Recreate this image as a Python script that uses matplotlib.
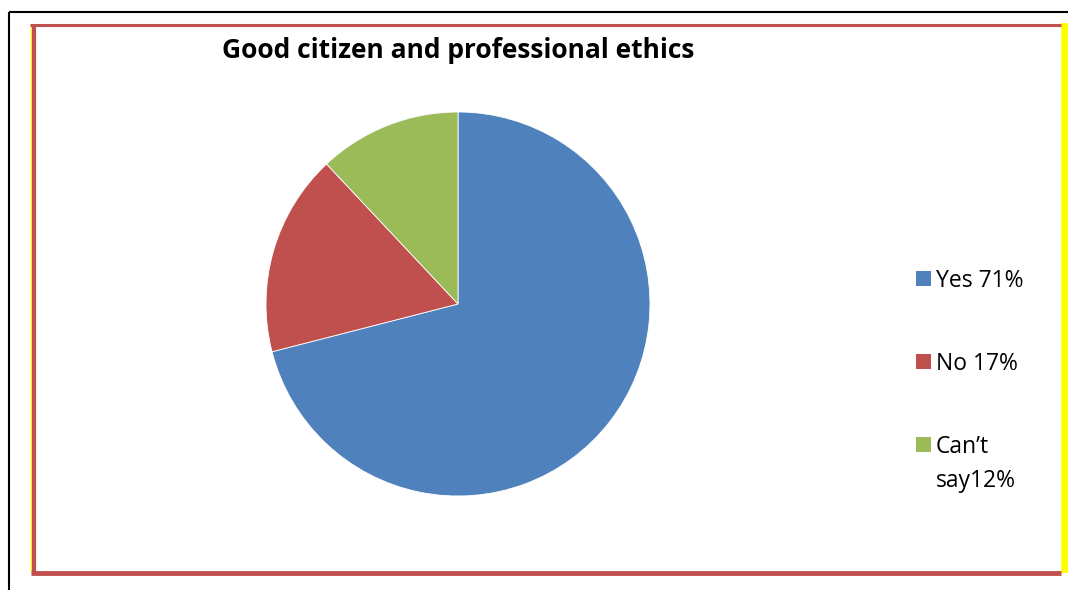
import matplotlib.pyplot as plt
from matplotlib.lines import Line2D
from matplotlib.patches import Rectangle

title = "Good citizen and professional ethics"
labels = ["Yes 71%", "No 17%", "Can\u2019t\nsay12%"]
values = [71, 17, 12]
colors = ["#4F81BD", "#C0504D", "#9BBB59"]

plt.rcParams['font.family'] = ['Open Sans', 'DejaVu Sans']

W, H = 1068, 590
fig = plt.figure(figsize=(W / 100, H / 100), dpi=100, facecolor='white')

def fx(x):
    return x / W

def fy(y):
    return 1 - y / H

def px_line(x0, y0, x1, y1, color, lw):
    # pixel coords (top-left origin) -> figure fraction
    fig.add_artist(Line2D([fx(x0), fx(x1)], [fy(y0), fy(y1)],
                          color=color, linewidth=lw, solid_capstyle='butt'))

# outer black frame
px_line(9, 12, W, 12, 'black', 1.5)
px_line(9, 12, 9, H, 'black', 1.5)
# yellow edges
px_line(30.5, 24, 30.5, 572, '#FFFF00', 1.0)
px_line(1064.5, 23, 1064.5, 573, '#FFFF00', 5.5)
# red frame
px_line(30, 24.5, 1061, 24.5, '#C0504D', 2.2)
px_line(33.5, 24, 33.5, 574, '#C0504D', 3.0)
px_line(31, 572.5, 1061, 572.5, '#C0504D', 3.5)

# pie axes: center (458,304), radius 192 px
cx, cy, r = 458, 304, 192
ax = fig.add_axes([fx(cx - r), fy(cy + r), 2 * r / W, 2 * r / H])
wedges, _ = ax.pie(values, colors=colors, startangle=90, counterclock=False,
                   radius=1, wedgeprops=dict(edgecolor='white', linewidth=0.6))
ax.set_xlim(-1, 1)
ax.set_ylim(-1, 1)
ax.set_aspect('equal')
ax.axis('off')

fig.text(fx(458), fy(50), title, ha='center', va='center',
         fontsize=19, fontweight='bold')

# legend, square next to the first line of each label
for i, (lab, col) in enumerate(zip(labels, colors)):
    yc = 278 + 83 * i
    fig.add_artist(Rectangle((fx(916), fy(yc + 7.5)), 15 / W, 15 / H,
                             facecolor=col, edgecolor='none',
                             transform=fig.transFigure))
    fig.text(fx(936), fy(yc - 9), lab, ha='left', va='top',
             fontsize=16.5, linespacing=1.55)

fig.savefig('out.png', dpi=100, facecolor='white')
